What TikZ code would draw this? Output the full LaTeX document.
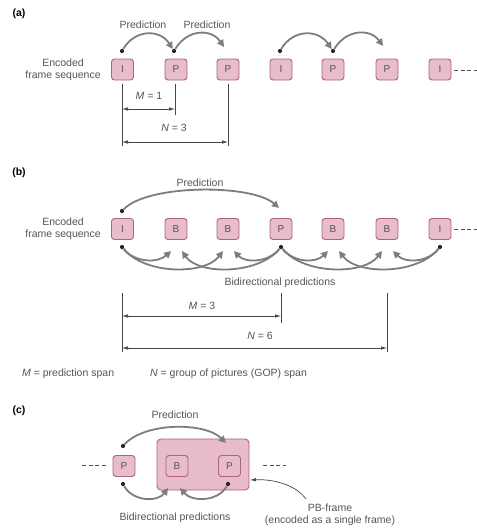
\documentclass[tikz,border=0pt]{standalone}
\usepackage{fontspec}
\setmainfont{Liberation Sans}
\usetikzlibrary{arrows.meta}
\definecolor{boxfill}{RGB}{232,188,202}
\definecolor{boxline}{RGB}{170,100,126}
\definecolor{arcgrey}{RGB}{125,125,125}
\definecolor{txtgrey}{RGB}{85,85,85}
\definecolor{dimgrey}{RGB}{70,70,70}
\tikzset{
  vframe/.style={draw=boxline, fill=boxfill, rounded corners=3pt, minimum width=22pt, minimum height=21pt, line width=0.9pt, inner sep=0pt, font=\fontsize{10}{11}\selectfont, text=txtgrey},
  bigframe/.style={draw=boxline, fill=boxfill, rounded corners=4pt, line width=0.9pt},
  dotn/.style={circle, fill=black!85, inner sep=0pt, minimum size=4.2pt},
  pred/.style={draw=arcgrey, line width=1.8pt, -{Triangle[length=7pt,width=7pt]}},
  dimln/.style={draw=dimgrey, line width=0.7pt},
  dimarr/.style={draw=dimgrey, line width=0.7pt, {Latex[length=6pt,width=3.5pt]}-{Latex[length=6pt,width=3.5pt]}},
  lbl/.style={font=\fontsize{10.5}{12}\selectfont, text=txtgrey, inner sep=0pt},
  part/.style={font=\bfseries\fontsize{10.5}{12}\selectfont, inner sep=0pt},
  dashln/.style={draw=txtgrey, line width=0.9pt, dash pattern=on 4pt off 2.5pt},
}
\begin{document}
\begin{tikzpicture}[x=1pt,y=-1pt]
\useasboundingbox[fill=white] (0,0) rectangle (477,531);

% ================= (a) =================
\node[part] (pa) at (19,14) {(a)};
\node[lbl, align=center] (encA) at (63,70) {Encoded\\[0pt]frame sequence};
\node[vframe] (a1) at (122.5,69.5) {I};
\node[vframe] (a2) at (176,69.5) {P};
\node[vframe] (a3) at (228,69.5) {P};
\node[vframe] (a4) at (281,69.5) {I};
\node[vframe] (a5) at (333,69.5) {P};
\node[vframe] (a6) at (387,69.5) {P};
\node[vframe] (a7) at (440,69.5) {I};
\coordinate (a7e) at (454,70);
\coordinate (a7f) at (477,70);
\draw[dashln] (a7e) -- (a7f);

\node[lbl] (predA1) at (143,25) {Prediction};
\node[lbl] (predA2) at (207,25) {Prediction};

\node[dotn] (da1) at (122,51) {};
\node[dotn] (da2) at (174,51) {};
\node[dotn] (da4) at (280,51) {};
\node[dotn] (da5) at (333,51) {};
\coordinate (ta3) at (224,47);
\coordinate (ta6) at (383,46);
\draw[pred] (da1) .. controls (135,29) and (160,29) .. (da2);
\draw[pred] (da2) .. controls (188,28) and (212,29) .. (ta3);
\draw[pred] (da4) .. controls (293,29) and (318,29) .. (da5);
\draw[pred] (da5) .. controls (347,28) and (371,29) .. (ta6);

% dimensions (a)
\coordinate (va1t) at (122,84); \coordinate (va1b) at (122,146);
\coordinate (va2t) at (175,84); \coordinate (va2b) at (175,115);
\coordinate (va3t) at (228,84); \coordinate (va3b) at (228,146);
\draw[dimln] (va1t) -- (va1b);
\draw[dimln] (va2t) -- (va2b);
\draw[dimln] (va3t) -- (va3b);
\coordinate (ma1) at (122,109); \coordinate (ma2) at (175,109);
\coordinate (na1) at (122,142); \coordinate (na2) at (228,142);
\draw[dimarr] (ma1) -- (ma2);
\draw[dimarr] (na1) -- (na2);
\node[lbl] (mA) at (149,96) {\textit{M} = 1};
\node[lbl] (nA) at (174,128) {\textit{N} = 3};

% ================= (b) =================
\node[part] (pb) at (19,173) {(b)};
\node[lbl, align=center] (encB) at (63,229) {Encoded\\[0pt]frame sequence};
\node[vframe] (b1) at (122.5,229) {I};
\node[vframe] (b2) at (176,229) {B};
\node[vframe] (b3) at (228,229) {B};
\node[vframe] (b4) at (281,229) {P};
\node[vframe] (b5) at (333,229) {B};
\node[vframe] (b6) at (387,229) {B};
\node[vframe] (b7) at (440,229) {I};
\coordinate (b7e) at (454,229);
\coordinate (b7f) at (477,229);
\draw[dashln] (b7e) -- (b7f);

\node[lbl] (predB) at (200,183) {Prediction};
\node[dotn] (db1t) at (122,211) {};
\coordinate (tb4) at (279,208);
\draw[pred] (db1t) .. controls (148,184) and (252,184) .. (tb4);

\node[dotn] (db1) at (122,247) {};
\node[dotn] (db4) at (281,247) {};
\node[dotn] (db7) at (440,247) {};
\coordinate (tb2l) at (171,251); \coordinate (tb2r) at (182,251);
\coordinate (tb3l) at (223,251); \coordinate (tb3r) at (234,251);
\coordinate (tb5l) at (328,251); \coordinate (tb5r) at (339,251);
\coordinate (tb6l) at (382,251); \coordinate (tb6r) at (393,251);
% from I (left)
\draw[pred] (db1) .. controls (135,263) and (158,263) .. (tb2l);
\draw[pred] (db1) .. controls (145,275) and (205,275) .. (tb3l);
% from P back
\draw[pred] (db4) .. controls (268,263) and (245,263) .. (tb3r);
\draw[pred] (db4) .. controls (258,275) and (198,275) .. (tb2r);
% from P forward
\draw[pred] (db4) .. controls (294,263) and (316,263) .. (tb5l);
\draw[pred] (db4) .. controls (304,275) and (364,275) .. (tb6l);
% from I back
\draw[pred] (db7) .. controls (427,263) and (405,263) .. (tb6r);
\draw[pred] (db7) .. controls (417,275) and (357,275) .. (tb5r);
\node[lbl] (bidB) at (280,283) {Bidirectional predictions};

% dimensions (b)
\coordinate (vb1t) at (122,293); \coordinate (vb1b) at (122,352);
\coordinate (vb2t) at (281,293); \coordinate (vb2b) at (281,323);
\coordinate (vb3t) at (387,293); \coordinate (vb3b) at (387,352);
\draw[dimln] (vb1t) -- (vb1b);
\draw[dimln] (vb2t) -- (vb2b);
\draw[dimln] (vb3t) -- (vb3b);
\coordinate (mb1) at (122,316); \coordinate (mb2) at (281,316);
\coordinate (nb1) at (122,348); \coordinate (nb2) at (387,348);
\draw[dimarr] (mb1) -- (mb2);
\draw[dimarr] (nb1) -- (nb2);
\node[lbl] (mB) at (202,306) {\textit{M} = 3};
\node[lbl] (nB) at (260,336) {\textit{N} = 6};

\node[lbl, anchor=west] (legM) at (22,374) {\textit{M} = prediction span};
\node[lbl, anchor=west] (legN) at (150,374) {\textit{N} = group of pictures (GOP) span};

% ================= (c) =================
\node[part] (pc) at (19,411) {(c)};
\node[bigframe, minimum width=92pt, minimum height=51pt] (pbf) at (203,464.5) {};
\node[vframe] (c1) at (124,466) {P};
\node[vframe] (c2) at (177,466) {B};
\node[vframe] (c3) at (229.5,466) {P};
\coordinate (cl1) at (82,465); \coordinate (cl2) at (107,465);
\coordinate (cr1) at (263,465); \coordinate (cr2) at (286,465);
\draw[dashln] (cl1) -- (cl2);
\draw[dashln] (cr1) -- (cr2);

\node[lbl] (predC) at (175,415) {Prediction};
\node[dotn] (dc1t) at (123,446) {};
\coordinate (tc3) at (226,443);
\draw[pred] (dc1t) .. controls (145,422) and (205,422) .. (tc3);

\node[dotn] (dc1) at (123,484) {};
\node[dotn] (dc3) at (228,484) {};
\coordinate (tc2l) at (168,488);
\coordinate (tc2r) at (180,488);
\draw[pred] (dc1) .. controls (133,502) and (158,502) .. (tc2l);
\draw[pred] (dc3) .. controls (218,502) and (192,502) .. (tc2r);
\node[lbl] (bidC) at (175,518) {Bidirectional predictions};

\node[lbl, align=center] (pbl) at (330,515) {PB-frame\\[0pt](encoded as a single frame)};
\coordinate (pbs) at (306,499);
\coordinate (pbt) at (250,480);
\draw[dimln, -{Latex[length=6pt,width=3.5pt]}] (pbs) .. controls (295,484) and (272,479) .. (pbt);
\end{tikzpicture}
\end{document}
